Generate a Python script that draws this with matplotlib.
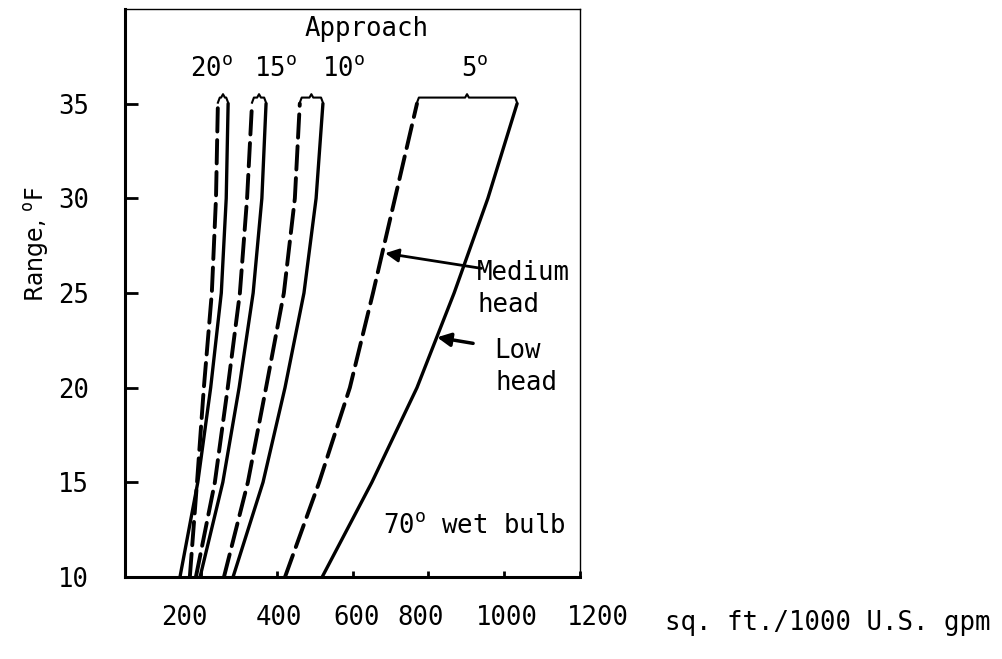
import matplotlib
matplotlib.use('Agg')

import matplotlib.pyplot as plt
from matplotlib.transforms import ScaledTranslation

plt.rcParams['font.family'] = 'DejaVu Sans Mono'
plt.rcParams['mathtext.fontset'] = 'custom'
plt.rcParams['mathtext.rm'] = 'DejaVu Sans Mono'

# ─── Data ───
# range (deg F) at which the curve positions were read
range_f = [10, 15, 20, 25, 30, 35]

# sq. ft. per 1000 gpm, low head (solid) and medium head (dashed)
low_20 = [145, 192, 226, 254, 267, 272]
med_20 = [171, 190, 208, 229, 240, 245]
low_15 = [198, 258, 301, 338, 361, 372]
med_15 = [187, 237, 271, 303, 322, 335]
low_10 = [285, 364, 422, 472, 504, 522]
med_10 = [261, 324, 372, 419, 448, 461]
low_5 = [520, 651, 770, 868, 957, 1034]
med_5 = [422, 512, 593, 654, 712, 770]

approach_labels = ['20', '15', '10', '5']
approach_label_x = [229, 396, 575, 923]

xticks = [200, 400, 600, 800, 1000, 1200]
yticks = [10, 15, 20, 25, 30, 35]
# the typed tick labels sit a little off their tick marks (pixels)
xtick_shift = [-16, 2, 4, -8, 3, 18]

fig = plt.figure(figsize=(10.03, 6.59), dpi=100)
ax = fig.add_axes([0.1246, 0.1244, 0.4537, 0.8620])

pairs = [(low_20, med_20), (low_15, med_15), (low_10, med_10), (low_5, med_5)]
for low, med in pairs:
    ax.plot(low, range_f, color='black', lw=2.4, solid_capstyle='round',
            solid_joinstyle='round')
    ax.plot(med, range_f, color='black', lw=2.8, linestyle=(0, (6, 2.2)),
            dash_capstyle='round', dash_joinstyle='round')
    # curly brace tying the pair together at the top
    x1, x2 = med[-1], low[-1]
    xm = (x1 + x2) / 2
    d = 5
    bx = [x1, x1 + d, xm - d, xm, xm + d, x2 - d, x2]
    by = [35.05, 35.32, 35.32, 35.5, 35.32, 35.32, 35.05]
    ax.plot(bx, by, color='black', lw=1.5, solid_joinstyle='round')

ax.set_xlim(0, 1200)
ax.set_ylim(10, 40)
ax.set_xticks(xticks)
ax.set_yticks(yticks)
ax.tick_params(axis='y', direction='in', length=9, width=2, pad=26, labelsize=18.5)
ax.tick_params(axis='x', direction='in', length=4, width=2, pad=20, labelsize=18.5)

for lab, dx in zip(ax.get_xticklabels(), xtick_shift):
    lab.set_transform(lab.get_transform() + ScaledTranslation(dx / 100, 0, fig.dpi_scale_trans))

for side in ['left', 'bottom']:
    ax.spines[side].set_linewidth(2.2)
for side in ['top', 'right']:
    ax.spines[side].set_linewidth(1.0)

# ─── Labels ───
ax.text(638, 38.59, 'Approach', ha='center', va='baseline', fontsize=18.5)
for lab, x in zip(approach_labels, approach_label_x):
    ax.text(x, 36.45, lab + r'$^{\mathrm{o}}$', ha='center', va='baseline', fontsize=18.5)

ax.text(928, 25.66, 'Medium', ha='left', va='baseline', fontsize=18.5)
ax.text(930, 23.98, 'head', ha='left', va='baseline', fontsize=18.5)
ax.text(973, 21.55, 'Low', ha='left', va='baseline', fontsize=18.5)
ax.text(977, 19.86, 'head', ha='left', va='baseline', fontsize=18.5)
ax.text(680, 12.32, r'70$^{\mathrm{o}}$ wet bulb', ha='left', va='baseline', fontsize=18.5)

ax.annotate('', xy=(686, 27.1), xytext=(940, 26.3),
            arrowprops=dict(arrowstyle='-|>', lw=2, color='black', mutation_scale=20,
                            shrinkA=0, shrinkB=0))
ax.annotate('', xy=(823, 22.66), xytext=(918, 22.34),
            arrowprops=dict(arrowstyle='-|>', lw=2.5, color='black', mutation_scale=20,
                            shrinkA=0, shrinkB=0))

fig.text(0.036, 0.63, r'Range, $^{\mathrm{o}}$F', rotation=90, ha='center', va='center',
         fontsize=17, family='DejaVu Sans')
fig.text(665 / 1003, 1 - 623 / 659, 'sq. ft./1000 U.S. gpm', ha='left', va='center',
         fontsize=18.5)

fig.savefig('out.png', dpi=100)
